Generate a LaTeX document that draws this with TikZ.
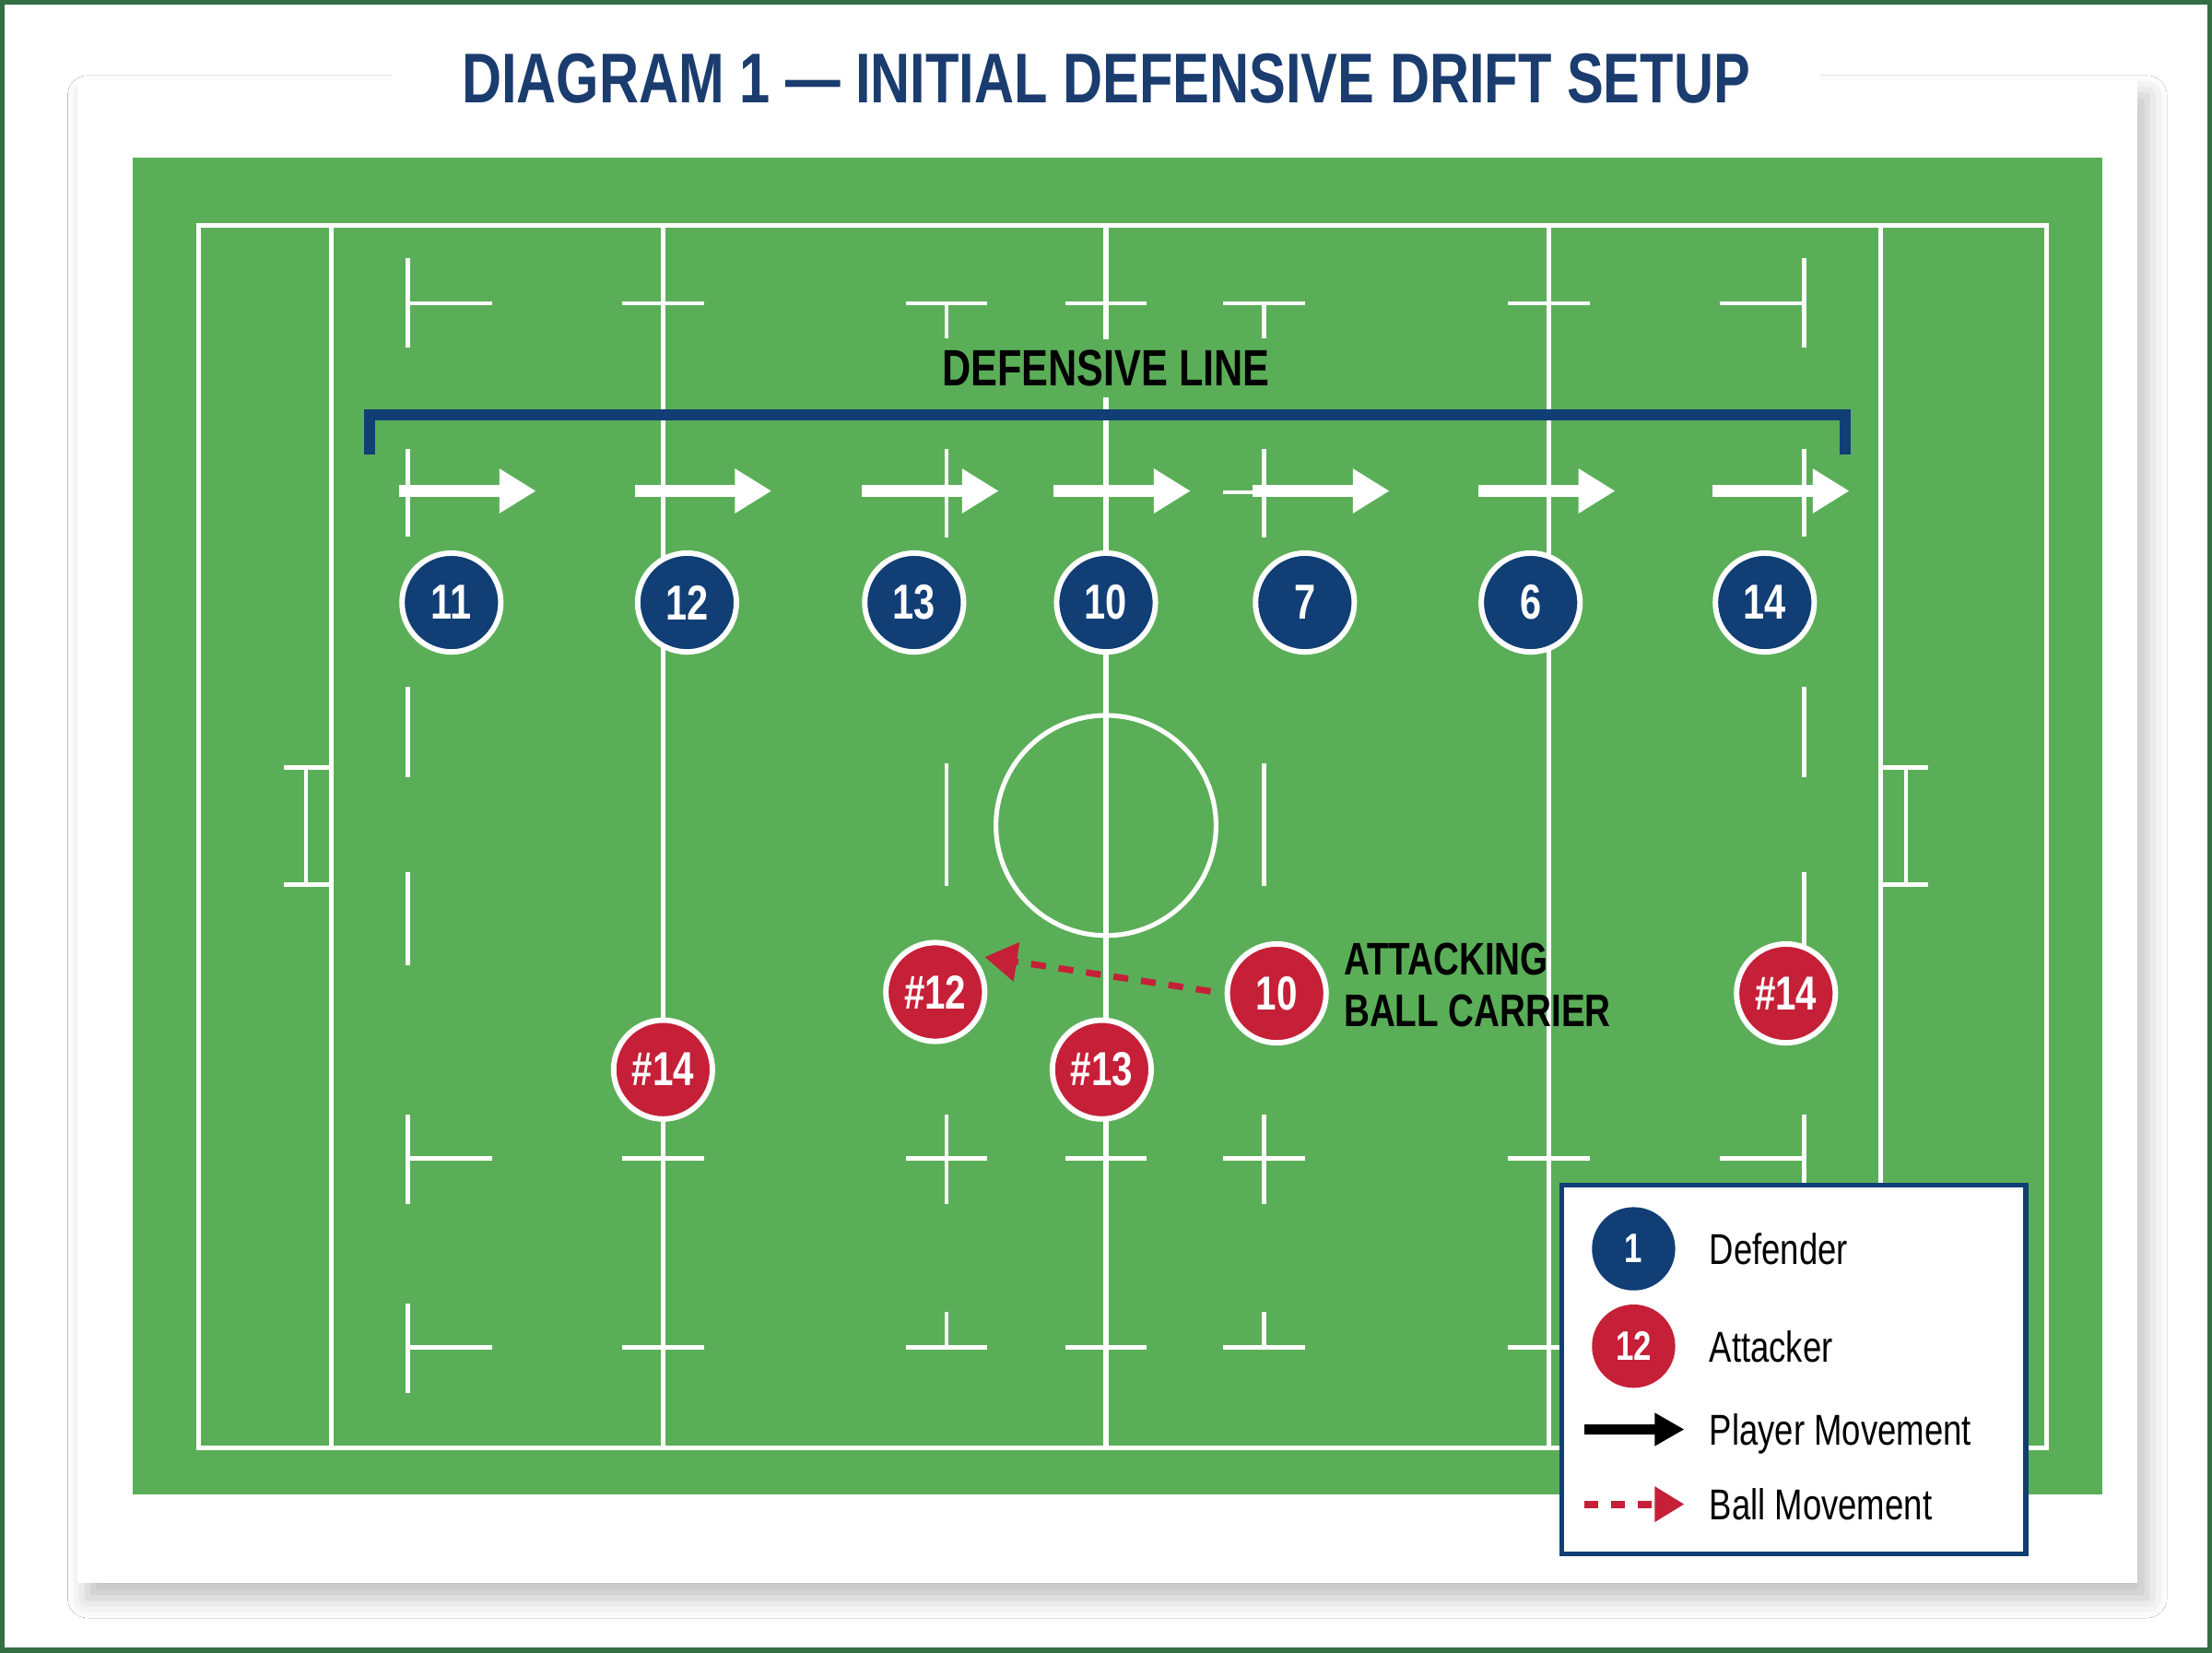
\documentclass[tikz,border=0pt]{standalone}
\usepackage{fontspec}
\setmainfont{Liberation Sans}[FakeStretch=0.78]
\usetikzlibrary{arrows.meta,shadows.blur}
\definecolor{pitch}{RGB}{91,174,88}
\definecolor{defnavy}{RGB}{17,62,117}
\definecolor{titlenavy}{RGB}{26,60,110}
\definecolor{attred}{RGB}{197,32,56}
\definecolor{framegreen}{RGB}{52,110,68}
\begin{document}
\begin{tikzpicture}[x=0.01cm, y=-0.01cm,
    pitchline/.style={white, line width=0.95pt},
    tick/.style={white, line width=0.85pt},
    defender/.style={circle, fill=defnavy, draw=white, line width=1.1pt, minimum size=0.7cm, inner sep=0pt, text=white, font=\fontsize{9.9}{10}\selectfont\bfseries},
    attacker/.style={defender, fill=attred, font=\fontsize{9.6}{10}\selectfont\bfseries},
    drift/.style={white, line width=2.3pt, -{Triangle[width=8.5pt,length=7.4pt]}},
    ballpass/.style={attred, line width=1.3pt, dash pattern=on 3pt off 2.6pt, -{Triangle[width=7.7pt,length=6.5pt]}},
    legtext/.style={anchor=west, inner sep=0pt, text depth=0pt, font=\fontsize{8.7}{10}\selectfont}]
    \useasboundingbox (0,0) rectangle (1568,1171);
    \fill[white] (0,0) rectangle (1568,1171);
    \fill[white, blur shadow={shadow xshift=2pt, shadow yshift=-3pt, shadow blur radius=4pt, shadow opacity=25}] (55,57) rectangle (1515,1122);
    \draw[framegreen, line width=2pt] (0,0) rectangle (1568,1171);
    \node[fill=white, inner xsep=0.5cm, inner ysep=0.12cm, text=titlenavy, font=\fontsize{14.2}{16}\selectfont\bfseries] (title) at (784,56) {DIAGRAM 1 — INITIAL DEFENSIVE DRIFT SETUP};

    \fill[pitch] (94,112) rectangle (1490,1059);
    \draw[pitchline] (141,160) rectangle (1451,1026);
    \foreach \x in {235,470,784,1098,1333}
        \draw[pitchline] (\x,160) -- (\x,1026);
    \draw[pitchline] (784,585) circle (78);
    \foreach \x in {289,1279}
        \foreach \a/\b in {183/246,318/380,487/551,618/684,790/853,924/987}
            \draw[tick] (\x,\a) -- (\x,\b);
    \foreach \x in {671,896}
        \foreach \a/\b in {215/240,318/381,541/628,790/853,930/955}
            \draw[tick] (\x,\a) -- (\x,\b);
    \foreach \y in {215,349,821,955} {
        \draw[tick] (289,\y) -- (349,\y);
        \draw[tick] (1219,\y) -- (1279,\y);
        \foreach \x in {671,784,896}
            \draw[tick] (\x-29,\y) -- (\x+29,\y);
    }
    \foreach \x in {470,1098}
        \foreach \y in {215,821,955}
            \draw[tick] (\x-29,\y) -- (\x+29,\y);
    \draw[tick] (201,544) -- (235,544) (201,627) -- (235,627) (217,544) -- (217,627)
        (1333,544) -- (1367,544) (1333,627) -- (1367,627) (1351,544) -- (1351,627);

    \node[fill=pitch, inner xsep=2pt, inner ysep=0.075cm, font=\fontsize{10.3}{12}\selectfont\bfseries] (deflabel) at (784,261) {DEFENSIVE LINE};
    \draw[defnavy, line width=2.2pt] (262,322) |- (1308,294) -- (1308,322);

    \foreach \x/\n [count=\i] in {320/11,487/12,648/13,784/10,925/7,1085/6,1251/14} {
        \node[defender] (d\i) at (\x,427) {\n};
        \draw[drift] ([xshift=-0.37cm,yshift=0.79cm]d\i.center) -- ++(97,0);
    }

    \node[attacker] (a14l) at (470,758) {\#14};
    \node[attacker] (a12) at (663,703) {\#12};
    \node[attacker] (a13) at (781,758) {\#13};
    \node[attacker] (a10) at (905,704) {10};
    \node[attacker] (a14r) at (1266,704) {\#14};
    \draw[ballpass, shorten <=0.1cm, shorten >=0.09cm] (a10.west) -- (a12.45);
    \node[anchor=west, inner sep=0pt, align=left, font=\fontsize{9.2}{10.3}\selectfont\bfseries] (carrier) at (952,698) {ATTACKING\\BALL CARRIER};

    \node[draw=defnavy, line width=1pt, fill=white, minimum width=3.29cm, minimum height=2.61cm, inner sep=0pt] (legend) at (1271.5,970.5) {};
    \node[defender, draw=none, minimum size=0.59cm, font=\fontsize{8.3}{9}\selectfont\bfseries] (legdef) at (1158,885) {1};
    \node[attacker, draw=none, minimum size=0.59cm, font=\fontsize{8.3}{9}\selectfont\bfseries] (legatt) at (1158,954) {12};
    \node[legtext] (legdeftext) at (1211,885) {Defender};
    \node[legtext] (legatttext) at (1211,954) {Attacker};
    \coordinate (movefrom) at (1123,1013);
    \coordinate (moveto) at (1194,1013);
    \draw[black, line width=2pt, -{Triangle[width=6.3pt,length=6pt]}] (movefrom) -- (moveto);
    \node[legtext] (legmove) at (1211,1013) {Player Movement};
    \coordinate (ballfrom) at (1123,1066);
    \coordinate (ballto) at (1194,1066);
    \draw[ballpass, line width=1.5pt, dash pattern=on 2.85pt off 2.56pt, -{Triangle[width=6.8pt,length=6pt]}] (ballfrom) -- (ballto);
    \node[legtext] (legball) at (1211,1066) {Ball Movement};
\end{tikzpicture}
\end{document}
